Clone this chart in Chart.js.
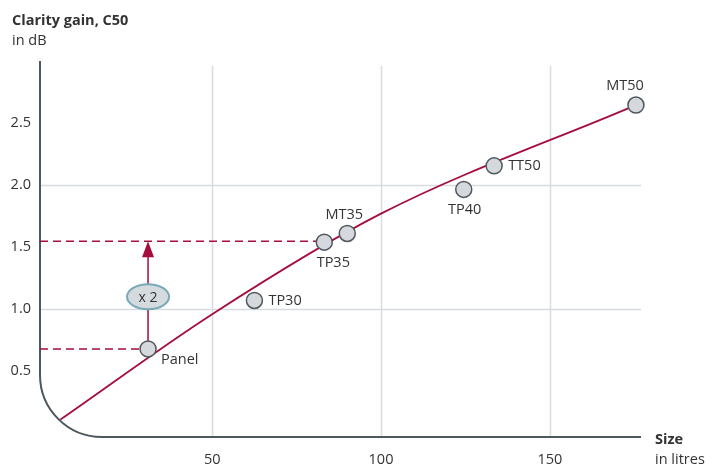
<!DOCTYPE html>
<html>
<head>
<meta charset="utf-8">
<script src="https://cdn.jsdelivr.net/npm/chart.js@4"></script>
<style>
  body { margin: 0; background: #fff; }
  #chart { display: block; }
</style>
</head>
<body>
<canvas id="chart" width="715" height="465"></canvas>
<script>
// ---- data ----
const sizeTicks = [50, 100, 150];
const gainTicks = [0.5, 1.0, 1.5, 2.0, 2.5];
const gainGrid = [1.0, 2.0];

const modelNames = ['Panel', 'TP30', 'TP35', 'MT35', 'TP40', 'TT50', 'MT50'];
const modelSizes = [31, 62.5, 83.2, 90, 124.5, 133.5, 175.5];
const modelGains = [0.68, 1.07, 1.54, 1.61, 1.965, 2.155, 2.645];

const trendSizes = [5, 50, 100, 175.5];
const trendGains = [0.11, 0.96, 1.77, 2.645];

// reference lines: Panel level and TP35 level, and the "x 2" arrow between them
const panelGain = 0.68;
const tp35Gain = 1.548;
const arrowSize = 31;
const ratioLabel = 'x 2';
const ratioGain = 1.1;

const crimson = '#a50d3d';
const ink = '#333';
const font = '"Open Sans", sans-serif';

// where each label sits relative to its point (px)
const labelPlace = {
    Panel: { dx: 13, dy: 11, align: 'left' },
    TP30: { dx: 14, dy: 0, align: 'left' },
    TP35: { dx: 9, dy: 21, align: 'center' },
    MT35: { dx: -3, dy: -19, align: 'center' },
    TP40: { dx: 1, dy: 20, align: 'center' },
    TT50: { dx: 14, dy: 0, align: 'left' },
    MT50: { dx: -11, dy: -19, align: 'center' }
};

const pts = (xs, ys) => xs.map((x, i) => ({ x: x, y: ys[i] }));

const backdrop = {
    id: 'backdrop',
    beforeDatasetsDraw(chart) {
        const { ctx, chartArea: a, scales: { x, y } } = chart;
        ctx.save();
        // grid
        ctx.strokeStyle = '#d6dce1';
        ctx.lineWidth = 1.5;
        sizeTicks.forEach(v => {
            const px = Math.round(x.getPixelForValue(v)) + 0.5;
            ctx.beginPath();
            ctx.moveTo(px, a.top + 5);
            ctx.lineTo(px, a.bottom);
            ctx.stroke();
        });
        gainGrid.forEach(v => {
            const py = Math.round(y.getPixelForValue(v)) + 0.5;
            ctx.beginPath();
            ctx.moveTo(a.left, py);
            ctx.lineTo(a.right, py);
            ctx.stroke();
        });
        // axes with rounded corner
        const r = 62;
        ctx.strokeStyle = '#4d585e';
        ctx.lineWidth = 2;
        ctx.beginPath();
        ctx.moveTo(a.left, a.top);
        ctx.lineTo(a.left, a.bottom - r);
        ctx.arcTo(a.left, a.bottom, a.left + r, a.bottom, r);
        ctx.lineTo(a.right, a.bottom);
        ctx.stroke();
        ctx.restore();
    },
    afterDatasetsDraw(chart) {
        const { ctx, scales: { x, y } } = chart;
        ctx.save();
        // arrow head
        const ax = x.getPixelForValue(arrowSize);
        const ay = y.getPixelForValue(tp35Gain);
        ctx.fillStyle = crimson;
        ctx.beginPath();
        ctx.moveTo(ax, ay);
        ctx.lineTo(ax + 6, ay + 16);
        ctx.lineTo(ax - 6, ay + 16);
        ctx.closePath();
        ctx.fill();
        // ratio bubble
        const ey = y.getPixelForValue(ratioGain);
        ctx.beginPath();
        ctx.ellipse(ax, ey, 21, 12.5, 0, 0, Math.PI * 2);
        ctx.fillStyle = '#d4dade';
        ctx.fill();
        ctx.strokeStyle = '#78a9b7';
        ctx.lineWidth = 2;
        ctx.stroke();
        ctx.fillStyle = ink;
        ctx.font = '14px ' + font;
        ctx.textAlign = 'center';
        ctx.textBaseline = 'middle';
        ctx.fillText(ratioLabel, ax, ey + 1);
        ctx.restore();
    },
    afterDraw(chart) {
        const { ctx, scales: { x, y } } = chart;
        ctx.save();
        ctx.fillStyle = ink;
        ctx.font = '14.5px ' + font;
        ctx.textBaseline = 'middle';
        // tick labels
        ctx.textAlign = 'right';
        gainTicks.forEach(v => ctx.fillText(v.toFixed(1), 31, y.getPixelForValue(v)));
        ctx.textAlign = 'center';
        sizeTicks.forEach(v => ctx.fillText(String(v), x.getPixelForValue(v), 460));
        // point labels
        modelNames.forEach((n, i) => {
            const p = labelPlace[n];
            ctx.textAlign = p.align;
            ctx.fillText(n, x.getPixelForValue(modelSizes[i]) + p.dx, y.getPixelForValue(modelGains[i]) + p.dy);
        });
        // axis titles
        ctx.textAlign = 'left';
        ctx.font = 'bold 14.5px ' + font;
        ctx.fillText('Clarity gain, C50', 12, 21);
        ctx.fillText('Size', 655, 440);
        ctx.font = '14.5px ' + font;
        ctx.fillText('in dB', 12, 41);
        ctx.fillText('in litres', 655, 460);
        ctx.restore();
    }
};

new Chart(document.getElementById('chart'), {
    type: 'line',
    data: {
        datasets: [
            {
                label: 'Models',
                data: pts(modelSizes, modelGains),
                showLine: false,
                pointRadius: 8,
                pointBackgroundColor: '#d5d9dd',
                pointBorderColor: '#4f585e',
                pointBorderWidth: 1.5,
                clip: false
            },
            {
                label: 'Trend',
                data: pts(trendSizes, trendGains),
                borderColor: crimson,
                borderWidth: 1.8,
                pointRadius: 0,
                cubicInterpolationMode: 'monotone'
            },
            {
                label: 'Arrow',
                data: [{ x: arrowSize, y: panelGain }, { x: arrowSize, y: tp35Gain - 0.1 }],
                borderColor: crimson,
                borderWidth: 1.5,
                pointRadius: 0
            },
            {
                label: 'Panel level',
                data: [{ x: -1, y: panelGain }, { x: arrowSize - 2, y: panelGain }],
                borderColor: crimson,
                borderWidth: 1.5,
                borderDash: [8, 5],
                pointRadius: 0
            },
            {
                label: 'TP35 level',
                data: [{ x: -1, y: tp35Gain }, { x: modelSizes[2] - 2, y: tp35Gain }],
                borderColor: crimson,
                borderWidth: 1.5,
                borderDash: [8, 5],
                pointRadius: 0
            }
        ]
    },
    options: {
        responsive: false,
        animation: false,
        layout: { padding: { left: 40, right: 74, top: 61, bottom: 28 } },
        plugins: { legend: { display: false }, tooltip: { enabled: false } },
        scales: {
            x: { type: 'linear', min: -1, max: 177, display: false },
            y: { min: -0.03, max: 3.0, display: false }
        }
    },
    plugins: [backdrop]
});
</script>
</body>
</html>
